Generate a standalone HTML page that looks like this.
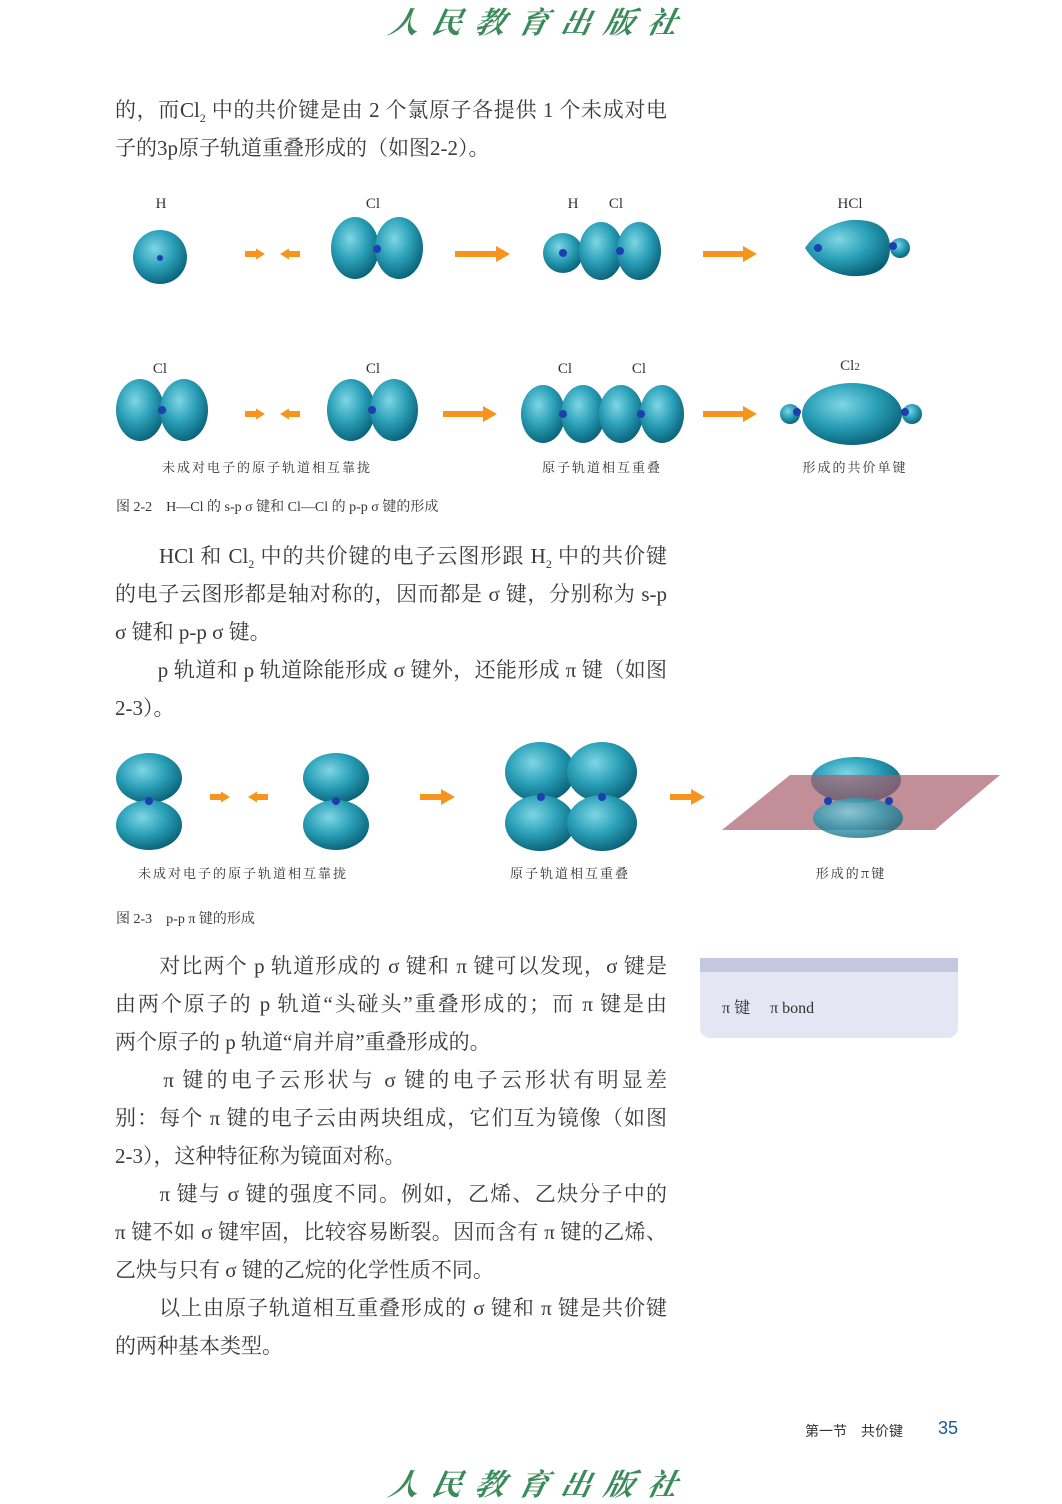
<!DOCTYPE html>
<html><head><meta charset="utf-8"><style>
body{margin:0;width:1062px;height:1504px;background:#fff;position:relative;overflow:hidden;font-family:"Liberation Serif","Noto Serif CJK SC",serif;color:#333}
.a{position:absolute;white-space:nowrap}
.l{position:absolute;left:115px;width:552px;font-size:21px;line-height:24px;color:#3a3a3a;text-align:justify;text-align-last:justify;white-space:nowrap}
.ll{text-align-last:left}
.wm{position:absolute;left:390px;width:300px;white-space:nowrap;font-family:"Noto Serif CJK SC",serif;font-style:italic;font-size:30px;line-height:36px;color:#3a8a5a;letter-spacing:13px;font-weight:bold;transform:skewX(-12deg)}
.cap{position:absolute;font-family:"Noto Serif CJK SC",serif;font-size:13px;color:#333;transform:translateX(-50%);white-space:nowrap;letter-spacing:2px}
.lab{position:absolute;font-size:15px;color:#333;transform:translateX(-50%)}
</style></head><body>
<div class="wm" style="top:2px">人民教育出版社</div>
<div class="wm" style="top:1464px">人民教育出版社</div>

<div class="l" style="top:98px">的，而Cl<sub style="font-size:12px;line-height:0">2</sub> 中的共价键是由 2 个氯原子各提供 1 个未成对电</div>
<div class="l ll" style="top:136px">子的3p原子轨道重叠形成的（如图2-2）。</div>

<svg class="a" style="left:0;top:0" width="1062" height="1504">
<defs>
<radialGradient id="g" cx="0.4" cy="0.35" r="0.7"><stop offset="0" stop-color="#7fd6e4"/><stop offset="0.5" stop-color="#2aa0b8"/><stop offset="1" stop-color="#075d74"/></radialGradient>
<marker id="m" markerUnits="userSpaceOnUse" markerWidth="14" markerHeight="16" refX="0" refY="8" orient="auto"><path d="M0,0L14,8L0,16z" fill="#f7941d"/></marker>
<marker id="s" markerUnits="userSpaceOnUse" markerWidth="9" markerHeight="11" refX="0" refY="5.5" orient="auto"><path d="M0,0L9,5.5L0,11z" fill="#f7941d"/></marker>
</defs>
<g fill="url(#g)">
<circle cx="160" cy="257" r="27"/>
<ellipse cx="355" cy="248" rx="24" ry="31"/><ellipse cx="399" cy="248" rx="24" ry="31"/>
<circle cx="563" cy="253" r="20"/><ellipse cx="601" cy="251" rx="22" ry="29"/><ellipse cx="639" cy="251" rx="22" ry="29"/>
<path d="M805,248 Q820,225 850,220 Q890,218 890,248 Q890,278 850,276 Q820,272 805,248z"/><circle cx="900" cy="248" r="10"/>
<ellipse cx="140" cy="410" rx="24" ry="31"/><ellipse cx="184" cy="410" rx="24" ry="31"/>
<ellipse cx="351" cy="410" rx="24" ry="31"/><ellipse cx="394" cy="410" rx="24" ry="31"/>
<ellipse cx="543" cy="414" rx="22" ry="29"/><ellipse cx="583" cy="414" rx="22" ry="29"/><ellipse cx="621" cy="414" rx="22" ry="29"/><ellipse cx="662" cy="414" rx="22" ry="29"/>
<circle cx="790" cy="414" r="10"/><ellipse cx="852" cy="414" rx="50" ry="31"/><circle cx="912" cy="414" r="10"/>
<ellipse cx="149" cy="778" rx="33" ry="25"/><ellipse cx="149" cy="825" rx="33" ry="25"/>
<ellipse cx="336" cy="778" rx="33" ry="25"/><ellipse cx="336" cy="825" rx="33" ry="25"/>
<ellipse cx="540" cy="772" rx="35" ry="30"/><ellipse cx="540" cy="823" rx="35" ry="28"/>
<ellipse cx="602" cy="772" rx="35" ry="30"/><ellipse cx="602" cy="823" rx="35" ry="28"/>
<ellipse cx="856" cy="780" rx="45" ry="23"/>
</g>
<polygon points="722,830 790,775 1000,775 935,830" fill="#a8606e" opacity="0.7"/>
<ellipse cx="858" cy="818" rx="45" ry="20" fill="url(#g)" opacity="0.75"/>
<g fill="#1d3fb0">
<circle cx="160" cy="258" r="3"/><circle cx="377" cy="249" r="4"/><circle cx="563" cy="253" r="4"/><circle cx="620" cy="251" r="4"/><circle cx="818" cy="248" r="4"/><circle cx="893" cy="246" r="4"/>
<circle cx="162" cy="410" r="4"/><circle cx="372" cy="410" r="4"/><circle cx="563" cy="414" r="4"/><circle cx="641" cy="414" r="4"/><circle cx="797" cy="412" r="4"/><circle cx="905" cy="412" r="4"/>
<circle cx="149" cy="801" r="4"/><circle cx="336" cy="801" r="4"/><circle cx="541" cy="797" r="4"/><circle cx="602" cy="797" r="4"/><circle cx="828" cy="801" r="4"/><circle cx="889" cy="801" r="4"/>
</g>
<g stroke="#f7941d" stroke-width="6">
<g marker-end="url(#s)">
<line x1="245" y1="254" x2="256" y2="254"/><line x1="300" y1="254" x2="289" y2="254"/>
<line x1="245" y1="414" x2="256" y2="414"/><line x1="300" y1="414" x2="289" y2="414"/>
<line x1="210" y1="797" x2="221" y2="797"/><line x1="268" y1="797" x2="257" y2="797"/>
</g>
<g marker-end="url(#m)">
<line x1="455" y1="254" x2="496" y2="254"/><line x1="703" y1="254" x2="743" y2="254"/>
<line x1="443" y1="414" x2="483" y2="414"/><line x1="703" y1="414" x2="743" y2="414"/>
<line x1="420" y1="797" x2="441" y2="797"/><line x1="670" y1="797" x2="691" y2="797"/>
</g>
</g>
</svg>

<div class="lab" style="left:161px;top:196px">H</div>
<div class="lab" style="left:373px;top:196px">Cl</div>
<div class="lab" style="left:573px;top:196px">H</div>
<div class="lab" style="left:616px;top:196px">Cl</div>
<div class="lab" style="left:850px;top:196px">HCl</div>
<div class="lab" style="left:160px;top:361px">Cl</div>
<div class="lab" style="left:373px;top:361px">Cl</div>
<div class="lab" style="left:565px;top:361px">Cl</div>
<div class="lab" style="left:639px;top:361px">Cl</div>
<div class="lab" style="left:850px;top:358px">Cl<span style="font-size:11px">2</span></div>
<div class="cap" style="left:267px;top:457px">未成对电子的原子轨道相互靠拢</div>
<div class="cap" style="left:602px;top:457px">原子轨道相互重叠</div>
<div class="cap" style="left:855px;top:457px">形成的共价单键</div>
<div class="a" style="left:116px;top:496px;font-size:14px">图 2-2　H—Cl 的 s-p σ 键和 Cl—Cl 的 p-p σ 键的形成</div>

<div class="l" style="top:544px">　　HCl 和 Cl<sub style="font-size:12px;line-height:0">2</sub> 中的共价键的电子云图形跟 H<sub style="font-size:12px;line-height:0">2</sub> 中的共价键</div>
<div class="l" style="top:582px">的电子云图形都是轴对称的，因而都是 σ 键，分别称为 s-p</div>
<div class="l ll" style="top:620px">σ 键和 p-p σ 键。</div>
<div class="l" style="top:658px">　　p 轨道和 p 轨道除能形成 σ 键外，还能形成 π 键（如图</div>
<div class="l ll" style="top:696px">2-3）。</div>

<div class="cap" style="left:243px;top:863px">未成对电子的原子轨道相互靠拢</div>
<div class="cap" style="left:570px;top:863px">原子轨道相互重叠</div>
<div class="cap" style="left:851px;top:863px">形成的π键</div>
<div class="a" style="left:116px;top:908px;font-size:14px">图 2-3　p-p π 键的形成</div>

<div class="l" style="top:954px">　　对比两个 p 轨道形成的 σ 键和 π 键可以发现，σ 键是</div>
<div class="l" style="top:992px">由两个原子的 p 轨道“头碰头”重叠形成的；而 π 键是由</div>
<div class="l ll" style="top:1030px">两个原子的 p 轨道“肩并肩”重叠形成的。</div>
<div class="l" style="top:1068px">　　π 键的电子云形状与 σ 键的电子云形状有明显差</div>
<div class="l" style="top:1106px">别：每个 π 键的电子云由两块组成，它们互为镜像（如图</div>
<div class="l ll" style="top:1144px">2-3），这种特征称为镜面对称。</div>
<div class="l" style="top:1182px">　　π 键与 σ 键的强度不同。例如，乙烯、乙炔分子中的</div>
<div class="l" style="top:1220px">π 键不如 σ 键牢固，比较容易断裂。因而含有 π 键的乙烯、</div>
<div class="l ll" style="top:1258px">乙炔与只有 σ 键的乙烷的化学性质不同。</div>
<div class="l" style="top:1296px">　　以上由原子轨道相互重叠形成的 σ 键和 π 键是共价键</div>
<div class="l ll" style="top:1334px">的两种基本类型。</div>

<div class="a" style="left:700px;top:958px;width:258px;height:80px;background:#e4e7f3;border-radius:0 0 10px 10px"></div>
<div class="a" style="left:700px;top:958px;width:258px;height:14px;background:#c3c8e0"></div>
<div class="a" style="left:722px;top:995px;font-size:16px">π 键　 π bond</div>

<div class="a" style="left:805px;top:1421px;font-size:14px;font-family:'Noto Sans CJK SC',sans-serif">第一节　共价键</div>
<div class="a" style="left:938px;top:1418px;font-size:18px;font-family:'Liberation Sans',sans-serif;color:#1a5a9a">35</div>
</body></html>
